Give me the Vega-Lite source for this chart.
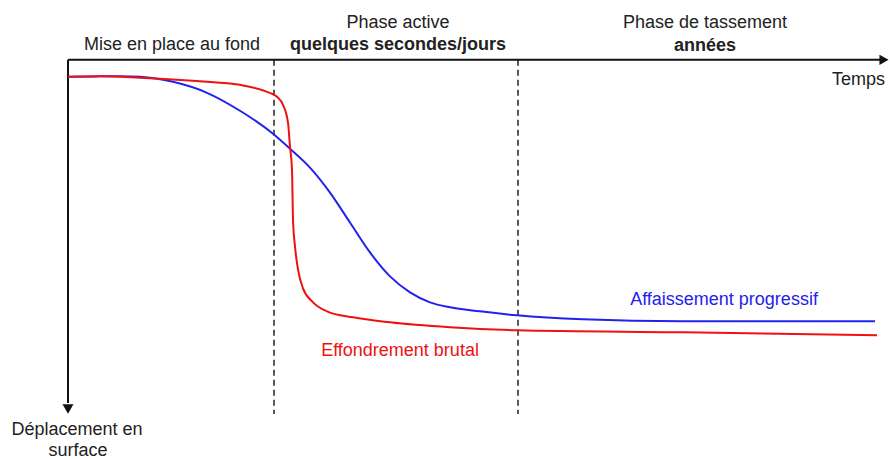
{
  "$schema": "https://vega.github.io/schema/vega-lite/v6.json",
  "width": 890,
  "height": 460,
  "padding": 0,
  "autosize": {"type": "fit", "contains": "padding"},
  "background": "white",
  "config": {"view": {"stroke": null}, "text": {"font": "Liberation Sans"}},
  "datasets": {
    "curves": [
      {"series": "Affaissement progressif", "t": 0, "d": 17},
      {"series": "Affaissement progressif", "t": 32, "d": 16.5},
      {"series": "Affaissement progressif", "t": 52, "d": 16.3},
      {"series": "Affaissement progressif", "t": 72, "d": 16.9},
      {"series": "Affaissement progressif", "t": 105, "d": 22},
      {"series": "Affaissement progressif", "t": 139, "d": 33},
      {"series": "Affaissement progressif", "t": 172, "d": 51},
      {"series": "Affaissement progressif", "t": 205, "d": 74},
      {"series": "Affaissement progressif", "t": 222, "d": 89},
      {"series": "Affaissement progressif", "t": 242, "d": 108},
      {"series": "Affaissement progressif", "t": 262, "d": 133},
      {"series": "Affaissement progressif", "t": 282, "d": 163},
      {"series": "Affaissement progressif", "t": 302, "d": 193},
      {"series": "Affaissement progressif", "t": 322, "d": 217},
      {"series": "Affaissement progressif", "t": 342, "d": 233},
      {"series": "Affaissement progressif", "t": 362, "d": 243},
      {"series": "Affaissement progressif", "t": 382, "d": 248},
      {"series": "Affaissement progressif", "t": 412, "d": 252},
      {"series": "Affaissement progressif", "t": 449, "d": 256},
      {"series": "Affaissement progressif", "t": 515, "d": 260},
      {"series": "Affaissement progressif", "t": 615, "d": 262},
      {"series": "Affaissement progressif", "t": 807, "d": 262},
      {"series": "Effondrement brutal", "t": 0, "d": 17},
      {"series": "Effondrement brutal", "t": 32, "d": 16.5},
      {"series": "Effondrement brutal", "t": 72, "d": 18},
      {"series": "Effondrement brutal", "t": 139, "d": 22},
      {"series": "Effondrement brutal", "t": 172, "d": 25},
      {"series": "Effondrement brutal", "t": 199, "d": 32},
      {"series": "Effondrement brutal", "t": 209, "d": 37},
      {"series": "Effondrement brutal", "t": 215, "d": 45},
      {"series": "Effondrement brutal", "t": 220, "d": 63},
      {"series": "Effondrement brutal", "t": 222, "d": 87},
      {"series": "Effondrement brutal", "t": 224, "d": 110},
      {"series": "Effondrement brutal", "t": 225, "d": 160},
      {"series": "Effondrement brutal", "t": 227, "d": 187},
      {"series": "Effondrement brutal", "t": 230, "d": 210},
      {"series": "Effondrement brutal", "t": 235, "d": 229},
      {"series": "Effondrement brutal", "t": 245, "d": 243},
      {"series": "Effondrement brutal", "t": 259, "d": 252},
      {"series": "Effondrement brutal", "t": 285, "d": 258},
      {"series": "Effondrement brutal", "t": 322, "d": 263},
      {"series": "Effondrement brutal", "t": 382, "d": 268},
      {"series": "Effondrement brutal", "t": 449, "d": 271},
      {"series": "Effondrement brutal", "t": 615, "d": 273},
      {"series": "Effondrement brutal", "t": 809, "d": 276}
    ]
  },
  "encoding": {
    "x": {"field": "t", "type": "quantitative", "scale": {"domain": [-68, 822], "nice": false, "zero": false}, "axis": null},
    "y": {"field": "d", "type": "quantitative", "scale": {"domain": [-60, 400], "nice": false, "zero": false, "reverse": true}, "axis": null}
  },
  "layer": [
    {
      "data": {"values": [{"t": 206, "d": 0, "d2": 355}, {"t": 450, "d": 0, "d2": 355}]},
      "mark": {"type": "rule", "color": "#222", "strokeWidth": 1.5, "strokeDash": [6, 4]},
      "encoding": {"y2": {"field": "d2"}}
    },
    {
      "data": {"values": [{"t": 0, "d": 0, "t2": 814, "d2": 0}, {"t": 0, "d": 0, "t2": 0, "d2": 344}]},
      "mark": {"type": "rule", "color": "#111", "strokeWidth": 2},
      "encoding": {"x2": {"field": "t2"}, "y2": {"field": "d2"}}
    },
    {
      "data": {"values": [{"t": 816, "d": 0}]},
      "mark": {"type": "point", "shape": "triangle-right", "filled": true, "color": "#111", "size": 110, "opacity": 1}
    },
    {
      "data": {"values": [{"t": 0, "d": 350}]},
      "mark": {"type": "point", "shape": "triangle-down", "filled": true, "color": "#111", "size": 120, "opacity": 1}
    },
    {
      "data": {"name": "curves"},
      "mark": {"type": "line", "strokeWidth": 2, "interpolate": "monotone"},
      "encoding": {
        "color": {"field": "series", "type": "nominal", "scale": {"domain": ["Affaissement progressif", "Effondrement brutal"], "range": ["#2222ee", "#ee1111"]}, "legend": null},
        "detail": {"field": "series"}
      }
    },
    {
      "data": {"values": [
        {"label": "Affaissement progressif", "t": 656, "d": 246},
        {"label": "Effondrement brutal", "t": 332, "d": 297}
      ]},
      "mark": {"type": "text", "fontSize": 18, "align": "center", "baseline": "alphabetic"},
      "encoding": {
        "text": {"field": "label"},
        "color": {"field": "label", "type": "nominal", "scale": {"domain": ["Affaissement progressif", "Effondrement brutal"], "range": ["#2222ee", "#ee1111"]}, "legend": null}
      }
    },
    {
      "data": {"values": [
        {"label": "Mise en place au fond", "t": 104, "d": -10},
        {"label": "Phase active", "t": 330, "d": -32},
        {"label": "Phase de tassement", "t": 637, "d": -32},
        {"label": "Déplacement en", "t": 9, "d": 376},
        {"label": "surface", "t": 10, "d": 397}
      ]},
      "mark": {"type": "text", "fontSize": 18, "align": "center", "baseline": "alphabetic", "color": "#222"},
      "encoding": {"text": {"field": "label"}}
    },
    {
      "data": {"values": [
        {"label": "quelques secondes/jours", "t": 330, "d": -10},
        {"label": "années", "t": 637, "d": -9}
      ]},
      "mark": {"type": "text", "fontSize": 18, "fontWeight": "bold", "align": "center", "baseline": "alphabetic", "color": "#222"},
      "encoding": {"text": {"field": "label"}}
    },
    {
      "data": {"values": [{"label": "Temps", "t": 817, "d": 25}]},
      "mark": {"type": "text", "fontSize": 18, "align": "right", "baseline": "alphabetic", "color": "#222"},
      "encoding": {"text": {"field": "label"}}
    }
  ]
}
